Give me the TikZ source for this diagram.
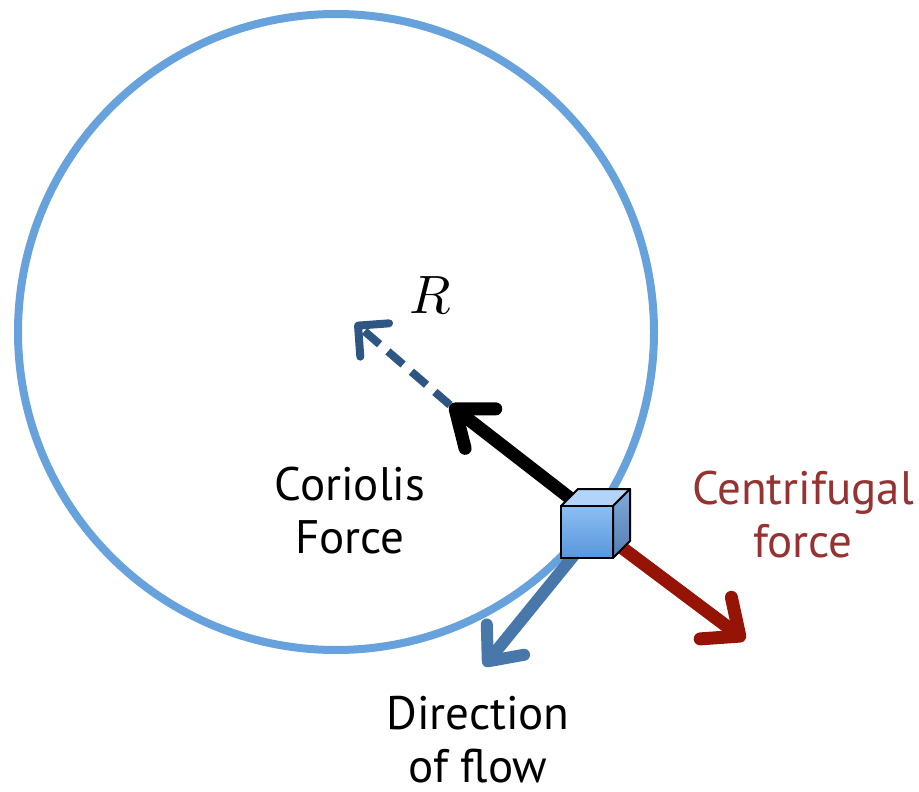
\documentclass[tikz,border=0pt]{standalone}
\usepackage{graphicx}
\usepackage{fontspec}
\setsansfont{PT Sans}
\usepackage{tikz}
\usetikzlibrary{arrows.meta,calc,positioning}
\definecolor{ringblue}{RGB}{104,162,221}
\definecolor{radblue}{RGB}{46,86,130}
\definecolor{flowblue}{RGB}{72,120,170}
\definecolor{cfred}{RGB}{150,20,6}
\definecolor{cftext}{RGB}{150,50,50}
\definecolor{cubetop}{RGB}{178,212,248}
\definecolor{cubefront}{RGB}{140,190,242}
\definecolor{cubelow}{RGB}{88,150,220}
\definecolor{cubeside}{RGB}{96,148,208}
\begin{document}
\begin{tikzpicture}[x=1pt,y=-1pt,
  force/.style={line width=13pt},
  lbl/.style={font=\sffamily\fontsize{47}{53}\selectfont,align=center,inner sep=0pt}]
\useasboundingbox (0,0) rectangle (919,792);
% the orbit
\draw[ringblue,line width=8pt] (336,332) circle (318);
% points for the arrows
\coordinate (box) at (587,532);
\coordinate (rad) at (450,405);
\coordinate (ctr) at (355,323);
\coordinate (flow) at (484,666);
\coordinate (out) at (745,640);
\draw[radblue,line width=8pt,dash pattern=on 20pt off 11pt,-{Straight Barb[length=22pt,width=44pt,round]}] (rad)--(ctr);
\draw[force,black,-{Straight Barb[length=32pt,width=50pt,round]}] ($(box)+(-12,-30)$)--(rad);
\draw[force,flowblue,line width=12pt,-{Straight Barb[length=28pt,width=48pt,round]}] ($(box)+(-12,22)$)--(flow);
\draw[force,cfred,-{Straight Barb[length=30pt,width=52pt,round]}] ($(box)+(30,12)$)--(out);
% the cube
\fill[cubetop,draw=black,line width=2pt,line join=round] (561,506)--(578,489)--(630,489)--(613,506)--cycle;
\shade[top color=cubeside!80!white,bottom color=cubeside!85!black,draw=black,line width=2pt,line join=round] (613,506)--(630,489)--(630,541)--(613,558)--cycle;
\shade[top color=cubefront,bottom color=cubelow,draw=black,line width=2pt] (561,506) rectangle (613,558);
% labels
\node[anchor=base] (rlabel) at (430,313) {\scalebox{5.4}{$R$}};
\node[lbl,anchor=base] (cor) at (350,553) {Coriolis\\Force};
\node[lbl,anchor=base,text=cftext] (cen) at (803,557) {Centrifugal\\force};
\node[lbl,anchor=base] (dir) at (478,782) {Direction\\of flow};
\end{tikzpicture}
\end{document}
